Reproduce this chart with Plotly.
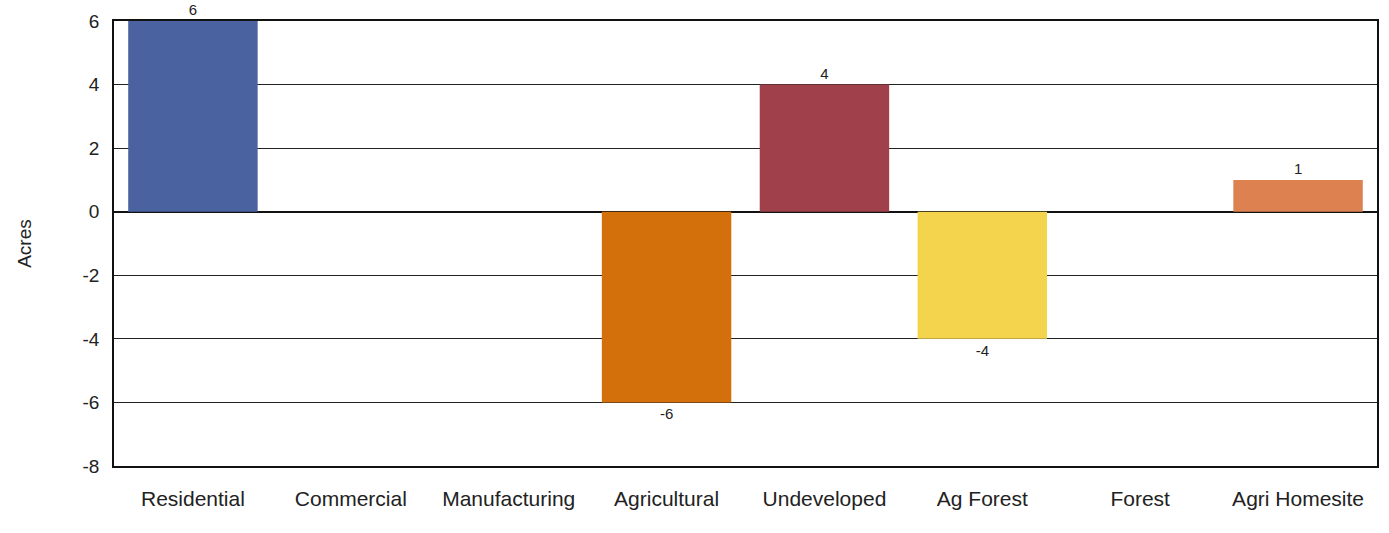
import plotly.graph_objects as go

# Net change in acres by land-use category
categories = ["Residential", "Commercial", "Manufacturing", "Agricultural",
              "Undeveloped", "Ag Forest", "Forest", "Agri Homesite"]
acres = [6, None, None, -6, 4, -4, None, 1]
value_labels = ["6", "", "", "-6", "4", "-4", "", "1"]
bar_colors = ["#4a62a0", "#4a62a0", "#4a62a0", "#d4700c",
              "#a0404a", "#f4d44c", "#f4d44c", "#de8150"]
y_ticks = [-8, -6, -4, -2, 0, 2, 4, 6]
y_tick_labels = ["-8", "-6", "-4", "-2", "0", "2", "4", "6"]

font_family = "Liberation Sans, Arial, sans-serif"

fig = go.Figure(
    go.Bar(
        x=categories,
        y=acres,
        marker=dict(color=bar_colors, line=dict(width=0)),
        text=value_labels,
        textposition="outside",
        textfont=dict(family=font_family, size=15, color="#222222"),
        cliponaxis=False,
        showlegend=False,
    )
)

fig.update_layout(
    width=1389,
    height=533,
    margin=dict(l=114, r=12, t=21, b=67, autoexpand=False),
    paper_bgcolor="white",
    plot_bgcolor="white",
    bargap=0.18,
    font=dict(family=font_family, color="#222222"),
)

fig.update_xaxes(
    showline=True, linecolor="#111111", linewidth=1.5, mirror=True,
    showgrid=False, ticks="", ticklabelstandoff=13,
    tickfont=dict(family=font_family, size=21, color="#222222"),
)

fig.update_yaxes(
    range=[-8, 6], tickvals=y_ticks, ticktext=y_tick_labels,
    showline=True, linecolor="#111111", linewidth=1.5, mirror=True,
    showgrid=True, gridcolor="#222222", gridwidth=1,
    zeroline=True, zerolinecolor="#111111", zerolinewidth=1.5,
    ticks="", ticklabelstandoff=9,
    tickfont=dict(family=font_family, size=19, color="#222222"),
    title=dict(text="Acres", standoff=46,
               font=dict(family=font_family, size=19, color="#222222")),
)

fig.write_html("out.html")
